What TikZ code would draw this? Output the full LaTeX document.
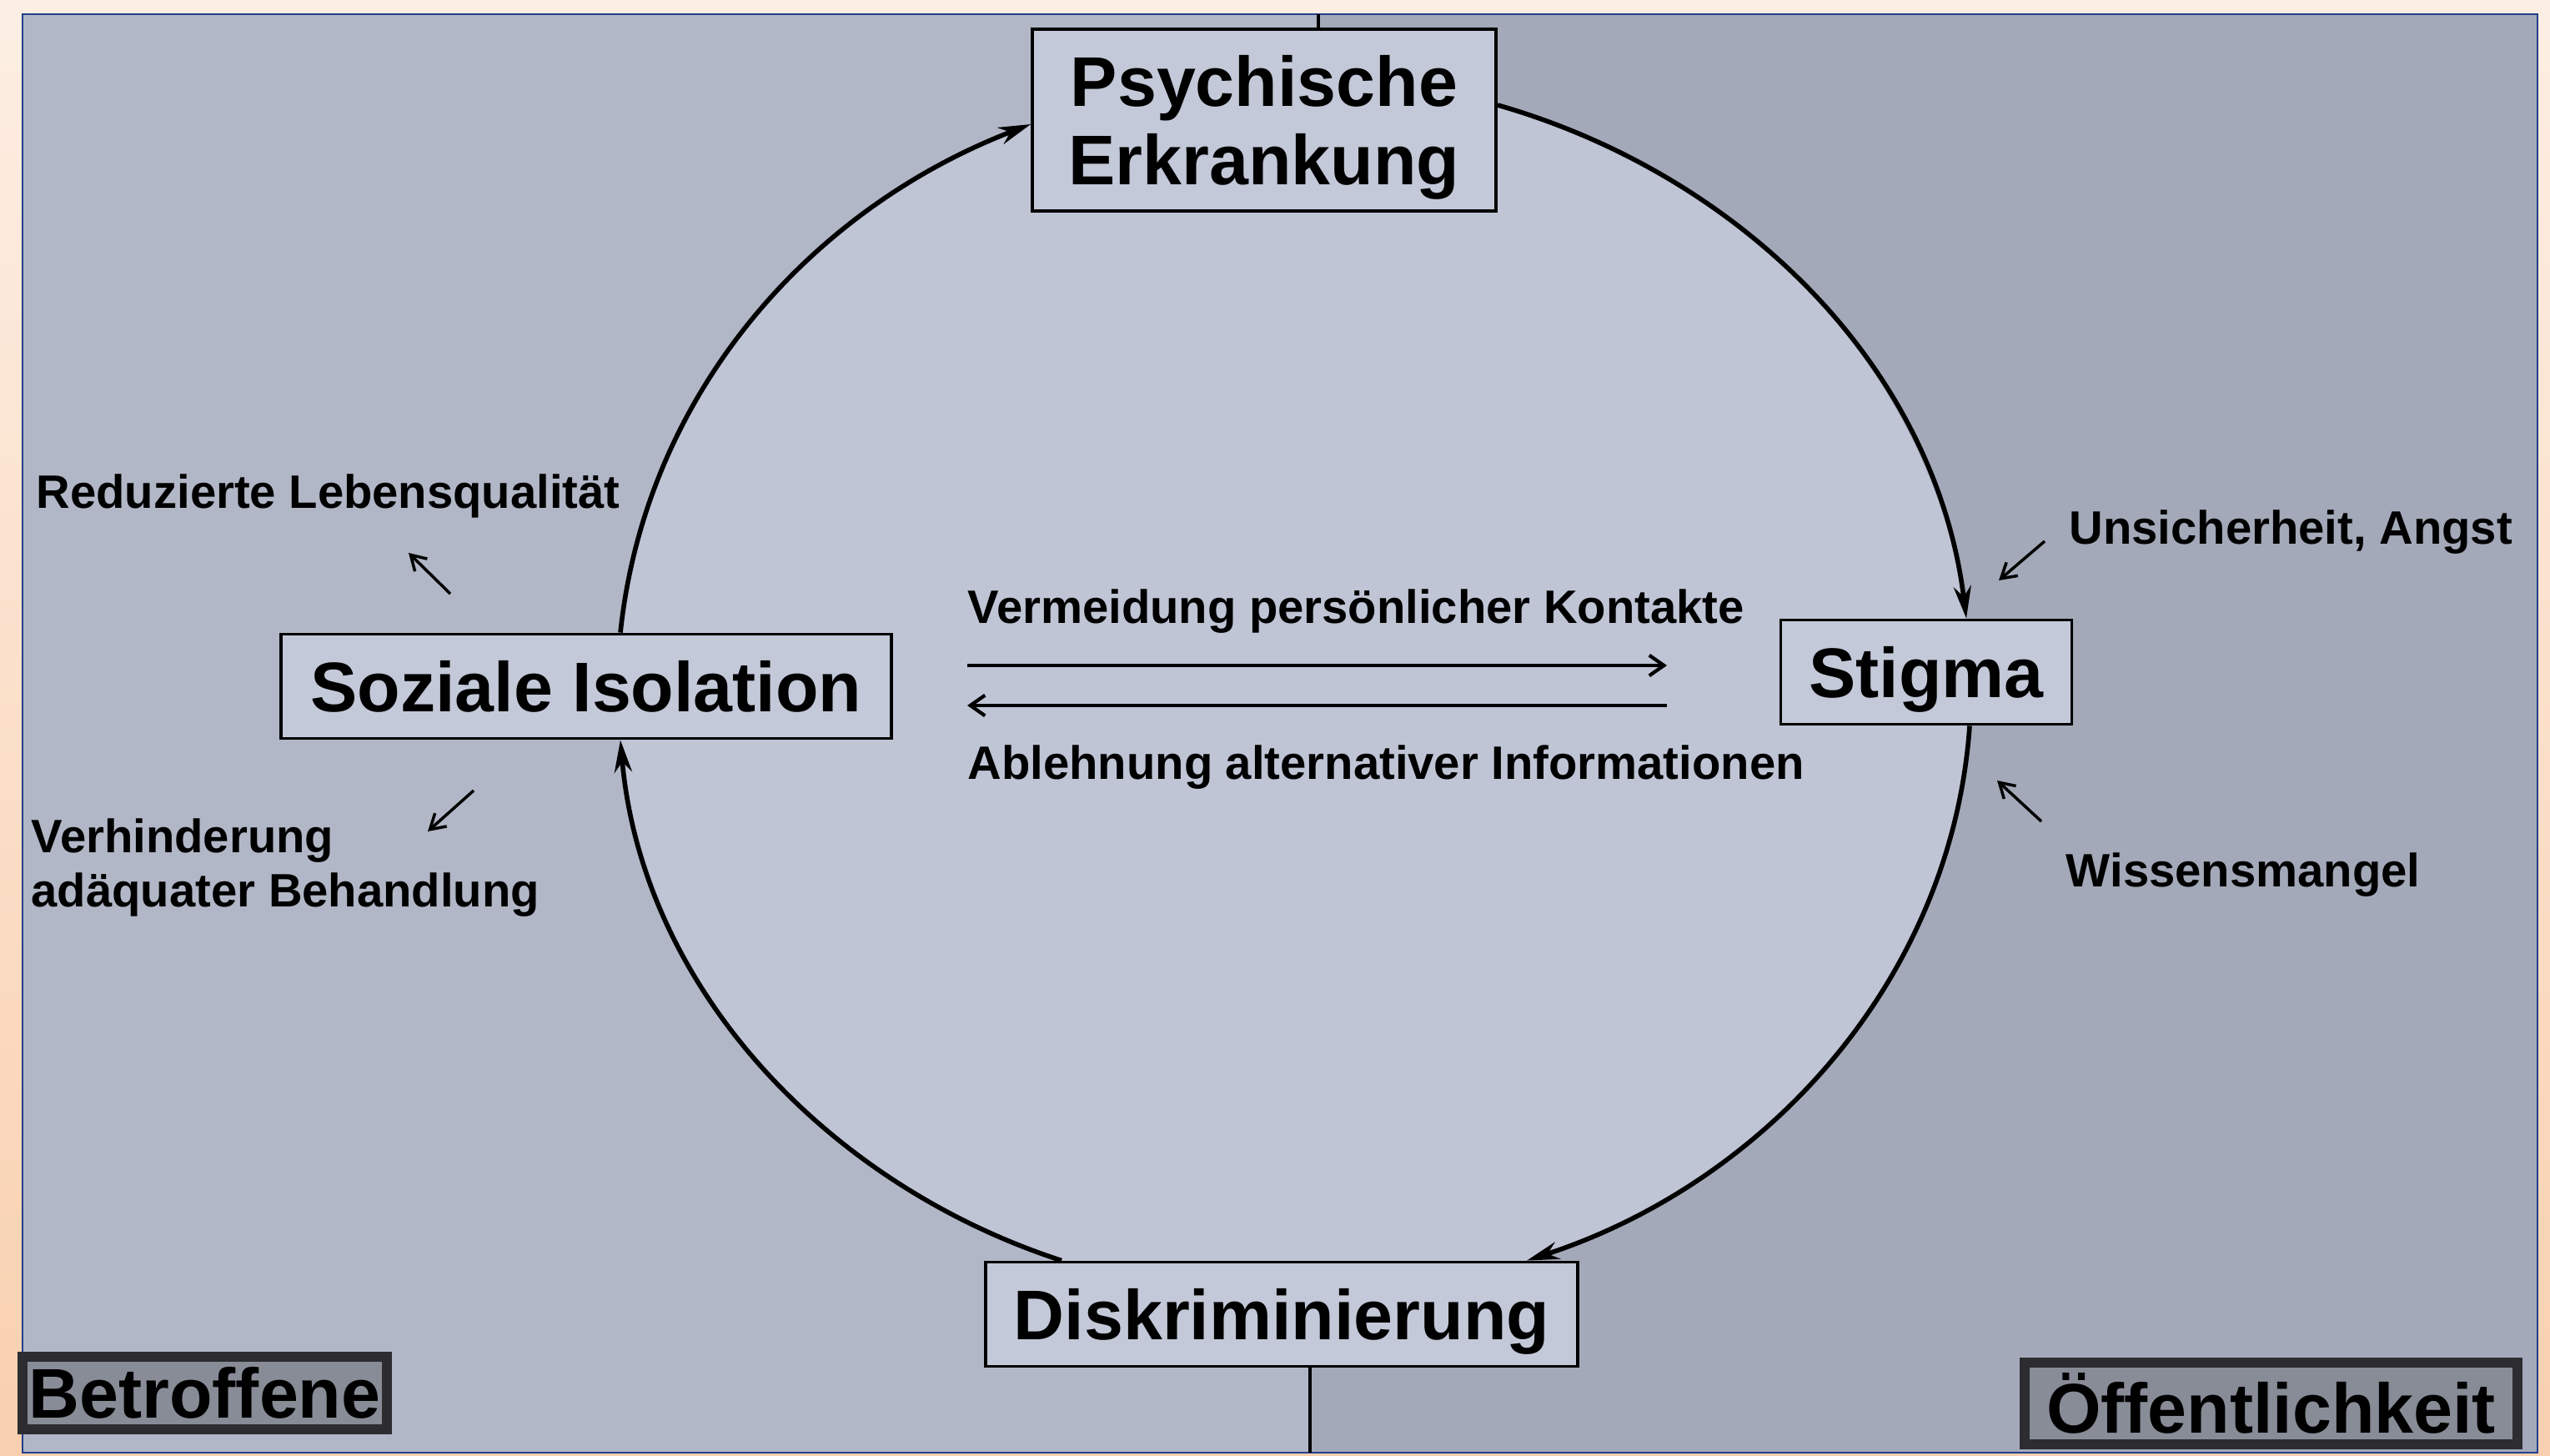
\documentclass[tikz,border=0pt]{standalone}
\usepackage{fontspec}
\setmainfont{Liberation Sans}
\definecolor{PeachTop}{HTML}{FCEEE3}
\definecolor{PeachBot}{HTML}{F9D0AF}
\definecolor{FrameBlue}{HTML}{22408A}
\definecolor{PanelLeft}{HTML}{B1B7C6}
\definecolor{PanelRight}{HTML}{A3A9B8}
\definecolor{CircleFill}{HTML}{BFC5D5}
\definecolor{BoxFill}{HTML}{C3C9D8}
\definecolor{TagDark}{HTML}{2C2C31}
\definecolor{TagHalo}{HTML}{B9BFCE}
\usetikzlibrary{arrows.meta, positioning}

\begin{document}
\begin{tikzpicture}[
    bigbox/.style={draw=black, line width=1.1pt, fill=BoxFill, align=center, text depth=0pt,
      font=\fontsize{24}{26.7}\selectfont\bfseries, minimum height=1.25cm},
    sidenote/.style={font=\fontsize{16}{18.5}\selectfont\bfseries, inner sep=0pt, anchor=west, align=left},
    loopline/.style={line width=1.6pt, -{Stealth[length=11pt,width=6pt]}},
    pointer/.style={line width=1pt, -{Straight Barb[length=5pt,width=6pt]}},
    flow/.style={line width=1.2pt, -{Straight Barb[length=5pt,width=7pt]}},
    cornertag/.style={fill=TagHalo!65!TagDark, draw=TagDark, line width=3.5pt, inner sep=0pt,
      font=\fontsize{24}{26.7}\selectfont\bfseries}
  ]
  % Hintergrund und Felder
  \shade[top color=PeachTop, bottom color=PeachBot] (0,0) rectangle (30.58,17.45);
  \fill[PanelLeft] (0.27,0.03) -- (15.71,0.03) -- (15.81,17.28) -- (0.27,17.28) -- cycle;
  \fill[PanelRight] (15.71,0.03) -- (30.43,0.03) -- (30.43,17.28) -- (15.81,17.28) -- cycle;
  \draw[FrameBlue, line width=0.6pt] (0.27,0.03) rectangle (30.43,17.28);
  \fill[CircleFill] (15.52,9.20) ellipse [x radius=8.11, y radius=7.33];

  % Kreislauf
  \node[bigbox, minimum width=5.56cm, minimum height=2.18cm] (psy) at (15.16,16.01) {Psychische\\Erkrankung};
  \node[bigbox, minimum width=3.49cm] (stig) at (23.10,9.39) {Stigma};
  \node[bigbox, minimum width=7.10cm] (disk) at (15.37,1.69) {Diskriminierung};
  \node[bigbox, minimum width=7.32cm] (soz) at (7.03,9.22) {Soziale Isolation};

  \draw[loopline] ([yshift=0.18cm]psy.east) to[out=-16, in=97, looseness=0.93] ([xshift=0.48cm]stig.north);
  \draw[loopline] ([xshift=0.52cm]stig.south) to[out=-94, in=18, looseness=0.93] ([xshift=2.94cm]disk.north);
  \draw[loopline] ([xshift=-2.64cm]disk.north) to[out=162, in=-85, looseness=0.93] ([xshift=0.41cm]soz.south);
  \draw[loopline] ([xshift=0.41cm]soz.north) to[out=84, in=-159, looseness=0.93] ([yshift=-0.05cm]psy.west);

  % Trennlinie
  \coordinate (divtop) at (15.81,17.28);
  \coordinate (divbot) at (15.71,0.03);
  \draw[line width=1.1pt] (divtop) -- (divtop |- psy.north);
  \draw[line width=1.1pt] (divbot) -- (divbot |- disk.south);

  % Mitte
  \node[sidenote] (verm) at (11.60,10.12) {Vermeidung persönlicher Kontakte};
  \node[sidenote] (abl) at (11.60,8.25) {Ablehnung alternativer Informationen};
  \coordinate (vermL) at (11.60,9.47);
  \coordinate (vermR) at (19.99,9.47);
  \coordinate (ablR) at (19.99,8.99);
  \coordinate (ablL) at (11.60,8.99);
  \draw[flow] (vermL) -- (vermR);
  \draw[flow] (ablR) -- (ablL);

  % Folgen (links)
  \node[sidenote] (lebq) at (0.43,11.50) {Reduzierte Lebensqualität};
  \node[sidenote] (behand) at (0.37,7.04) {Verhinderung\\adäquater Behandlung};
  \coordinate (lebqA) at (5.40,10.33);
  \coordinate (lebqB) at (4.90,10.82);
  \coordinate (behandA) at (5.68,7.97);
  \coordinate (behandB) at (5.13,7.48);
  \draw[pointer] (lebqA) -- (lebqB);
  \draw[pointer] (behandA) -- (behandB);

  % Ursachen (rechts)
  \node[sidenote] (angst) at (24.81,11.07) {Unsicherheit, Angst};
  \node[sidenote] (wissen) at (24.77,6.96) {Wissensmangel};
  \coordinate (angstA) at (24.52,10.96);
  \coordinate (angstB) at (23.97,10.49);
  \coordinate (wissenA) at (24.48,7.60);
  \coordinate (wissenB) at (23.95,8.09);
  \draw[pointer] (angstA) -- (angstB);
  \draw[pointer] (wissenA) -- (wissenB);

  % Ecken
  \node[cornertag, minimum width=4.37cm, minimum height=0.87cm] (betr) at (2.455,0.745) {Betroffene};
  \node[cornertag, minimum width=5.91cm, minimum height=0.98cm] (oeff) at (27.235,0.62) {Öffentlichkeit};
\end{tikzpicture}
\end{document}
